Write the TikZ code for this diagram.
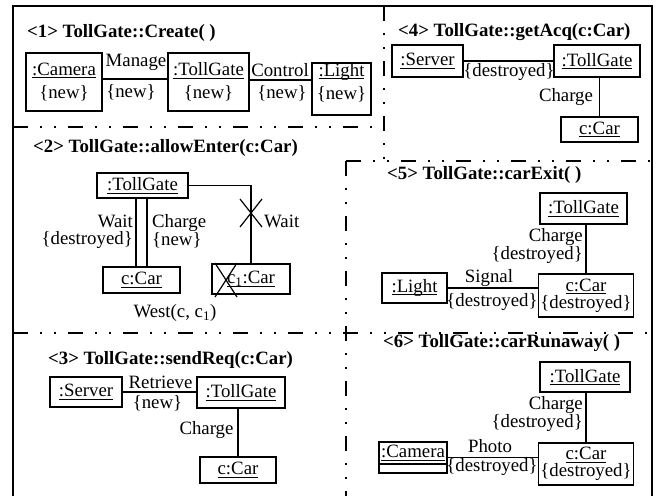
\documentclass[tikz,border=0pt]{standalone}
\usepackage{fontspec}
\setmainfont{Liberation Serif}
\newsavebox\ulbox
\newcommand\uln[1]{\sbox\ulbox{#1}\rlap{\rule[-3pt]{\wd\ulbox}{1pt}}\usebox\ulbox}
\begin{document}
\begin{tikzpicture}[x=1pt,y=-1pt,
  every node/.style={inner sep=0pt, font=\fontsize{18.8}{23}\selectfont},
  obj/.style={draw, line width=1.5pt, align=center},
  tight/.style={font=\fontsize{18.8}{17}\selectfont, align=center},
  link/.style={line width=1.2pt},
  title/.style={anchor=west, font=\fontsize{18.8}{23}\selectfont\bfseries},
  frame/.style={line width=1.4pt},
  divider/.style={line width=1.3pt, dash pattern=on 15pt off 12pt on 2pt off 12pt on 2pt off 12pt}
]
\useasboundingbox (0,0) rectangle (656,496);

% outer frame (open at the bottom)
\draw[frame] (13,496) -- (13,6) -- (652,6) -- (652,496);

% panel dividers
\draw[divider] (13,127) -- (384,127);
\draw[divider] (384,6) -- (384,161);
\draw[divider] (346,161) -- (652,161);
\draw[divider] (346,161) -- (346,496);
\draw[divider] (13,333) -- (652,333);

% <1> Create
\node[title] (t1) at (27,33) {<1> TollGate::Create( )};
\node[obj, minimum width=76pt, minimum height=58pt] (cam1) at (64,82) {\uln{:Camera}\\\{new\}};
\node[obj, minimum width=81pt, minimum height=58pt] (tg1) at (208.5,82) {\uln{:TollGate}\\\{new\}};
\node[obj, minimum width=59pt, minimum height=52pt] (lt1) at (341.5,89) {\uln{:Light}\\\{new\}\rule[-16pt]{0pt}{1pt}};
\draw[link] ([yshift=3pt]cam1.east) -- ([yshift=3pt]tg1.west);
\draw[link] ([yshift=2pt]tg1.east) -- ([yshift=9pt]lt1.west);
\node (m1) at (136,62) {Manage};
\node (m1n) at (131,92) {\{new\}};
\node (k1) at (280,70) {Control};
\node (k1n) at (282,93) {\{new\}};

% <4> getAcq
\node[title] (t4) at (398,32) {<4> TollGate::getAcq(c:Car)};
\node[obj, minimum width=71pt, minimum height=32pt] (sv4) at (427.5,61) {\uln{:Server}};
\node[obj, minimum width=86pt, minimum height=32pt] (tg4) at (597,61) {\uln{:TollGate}};
\node[obj, minimum width=77pt, minimum height=25pt] (car4) at (599.5,129.5) {\uln{c:Car}};
\draw[link] (sv4) -- (tg4);
\draw[link] (car4.north |- tg4.south) -- (car4.north);
\node (d4) at (509,72) {\{destroyed\}};
\node (ch4) at (566,97) {Charge};

% <2> allowEnter
\node[title] (t2) at (33,148) {<2> TollGate::allowEnter(c:Car)};
\node[obj, minimum width=91pt, minimum height=25pt] (tg2) at (142.5,185.5) {\uln{:TollGate}};
\node[obj, minimum width=77pt, minimum height=26pt] (car2) at (141.5,280) {\uln{c:Car}};
\node[obj, minimum width=78pt, minimum height=30pt] (c1) at (251,279) {\uln{c\textsubscript{1}:Car}};
\draw[link] ([xshift=-6.5pt]tg2.south) -- ([xshift=-5.5pt]car2.north);
\draw[link] ([xshift=4.5pt]tg2.south) -- ([xshift=5.5pt]car2.north);
\draw[link] (tg2.east) -| (c1.north);
\draw[link] (240,199) -- (262,227) (262,199) -- (240,227);
\draw[link] (215,263) -- (237,297) (237,263) -- (215,297);
\node[anchor=east, tight, align=right] (w2) at (133,231.5) {Wait\\\{destroyed\}};
\node[anchor=west, tight, align=left] (ch2) at (152,231.5) {Charge\\\{new\}};
\node[anchor=west] (w2b) at (264,221) {Wait};
\node (west) at (175,313) {West(c, c\textsubscript{1})};

% <3> sendReq
\node[title] (t3) at (48,360) {<3> TollGate::sendReq(c:Car)};
\node[obj, minimum width=72pt, minimum height=30pt] (sv3) at (86,392) {\uln{:Server}};
\node[obj, minimum width=88pt, minimum height=31pt] (tg3) at (241,392.5) {\uln{:TollGate}};
\node[obj, minimum width=76pt, minimum height=26pt] (car3) at (238,470) {\uln{c:Car}};
\draw[link] (sv3.east) -- (sv3.east -| tg3.west);
\draw[link] (car3.north |- tg3.south) -- (car3.north);
\node (r3) at (160.5,382) {Retrieve};
\node (n3) at (157.5,403) {\{new\}};
\node (ch3) at (206.5,430) {Charge};

% <5> carExit
\node[title] (t5) at (387,175) {<5> TollGate::carExit( )};
\node[obj, minimum width=87pt, minimum height=31pt] (tg5) at (583.5,208.5) {\uln{:TollGate}};
\node[obj, tight, minimum width=95pt, minimum height=43pt] (car5) at (586,295.5) {\uln{c:Car}\\\{destroyed\}};
\node[obj, minimum width=65pt, minimum height=30pt] (lt5) at (414.5,288) {\uln{:Light}};
\draw[link] (car5.north |- tg5.south) -- (car5.north);
\draw[link] (lt5.east) -- (lt5.east -| car5.west);
\node[anchor=east, tight, align=right] (ch5) at (583,246) {Charge\\\{destroyed\}};
\node (s5) at (489,278) {Signal};
\node (d5) at (492,302) {\{destroyed\}};

% <6> carRunaway
\node[title] (t6) at (383,343) {<6> TollGate::carRunaway( )};
\node[obj, minimum width=90pt, minimum height=30pt] (tg6) at (585,377) {\uln{:TollGate}};
\node[obj, tight, minimum width=95pt, minimum height=42pt] (car6) at (586,464) {\uln{c:Car}\\\{destroyed\}};
\node[obj, minimum width=68pt, minimum height=31pt] (cam6) at (413,457.5) {};
\draw[line width=1.5pt] ([yshift=-6.5pt]cam6.west) -- ([yshift=-6.5pt]cam6.east);
\node (cam6t) at (413,453) {\uln{:Camera}};
\draw[link] (car6.north |- tg6.south) -- (car6.north);
\draw[link] (cam6.east) -- (cam6.east -| car6.west);
\node[anchor=east, tight, align=right] (ch6) at (583,414) {Charge\\\{destroyed\}};
\node (p6) at (490,446) {Photo};
\node (d6) at (492,467) {\{destroyed\}};
\end{tikzpicture}
\end{document}
